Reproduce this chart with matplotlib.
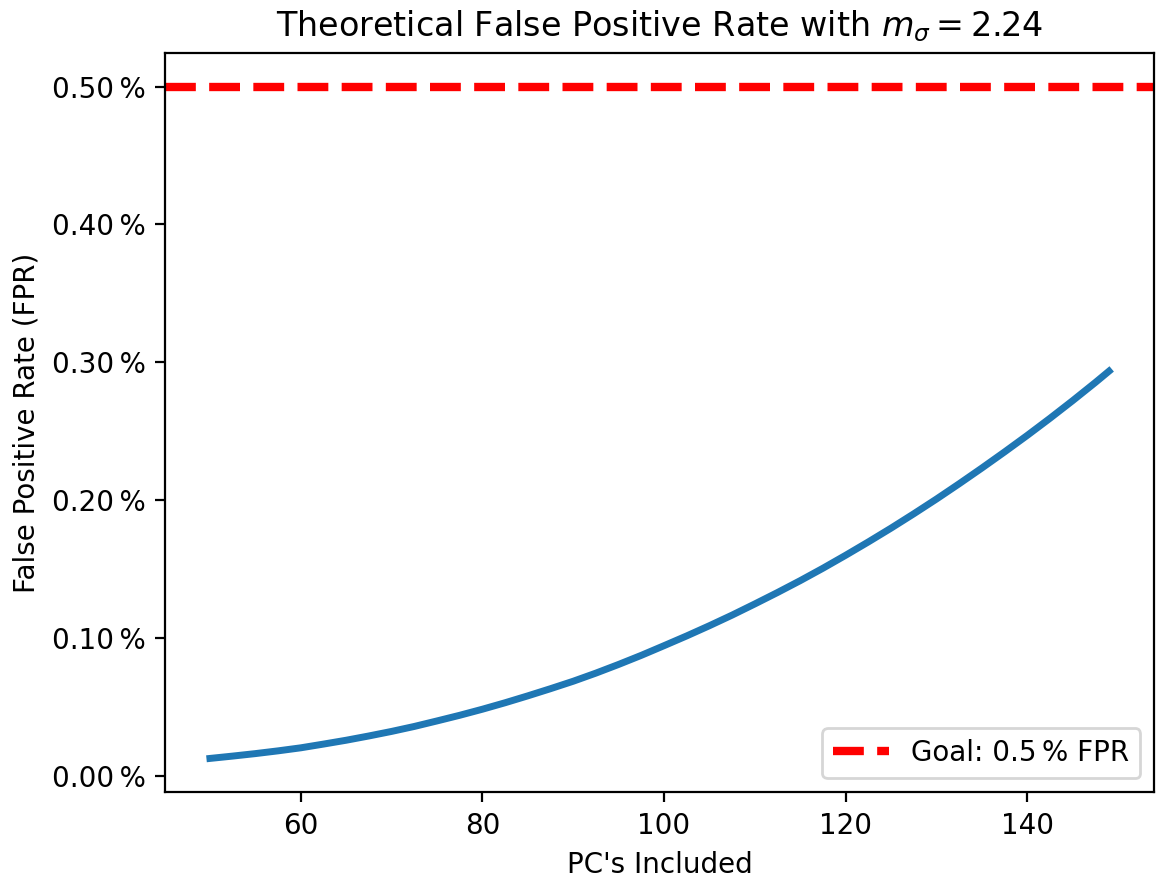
import numpy as np
import matplotlib
matplotlib.use("Agg")
import matplotlib.pyplot as plt
from matplotlib.ticker import FuncFormatter

# values (FPR in percent)
pcs = np.array([50, 52.5, 55, 57.5, 60, 62.5, 65, 67.5, 70, 72.5, 75, 77.5,
                80, 82.5, 85, 87.5, 90, 92.5, 95, 97.5, 100, 102.5, 105, 107.5,
                110, 112.5, 115, 117.5, 120, 122.5, 125, 127.5, 130, 132.5,
                135, 137.5, 140, 142.5, 145, 147.5, 149])
fpr = np.array([0.0126, 0.0143, 0.0161, 0.0181, 0.0203, 0.0230, 0.0258,
                0.0289, 0.0322, 0.0358, 0.0398, 0.0439, 0.0483, 0.0530,
                0.0580, 0.0632, 0.0686, 0.0745, 0.0808, 0.0874, 0.0944,
                0.1015, 0.1089, 0.1166, 0.1247, 0.1330, 0.1416, 0.1506,
                0.1600, 0.1697, 0.1797, 0.1901, 0.2008, 0.2119, 0.2233,
                0.2350, 0.2470, 0.2594, 0.2722, 0.2854, 0.2936])
goal = 0.5
m_sigma = 2.24

fig, ax = plt.subplots(figsize=(5.85, 4.42), dpi=200)
fig.subplots_adjust(left=0.141, right=0.9863, top=0.940, bottom=0.104)

ax.plot(pcs, fpr, color="#1f77b4", lw=2.5)
ax.axhline(goal, color="red", ls="--", lw=3, label="Goal: 0.5\u2009% FPR")

ax.yaxis.set_major_formatter(FuncFormatter(lambda v, p: f"{v:.2f}\u2009%"))
ax.set_yticks([0.0, 0.1, 0.2, 0.3, 0.4, 0.5])
ax.set_xlim(45.05, 153.95)
ax.set_ylim(-0.0118, 0.5244)

ax.set_title(rf"Theoretical False Positive Rate with $m_\sigma = {m_sigma}$")
ax.set_xlabel("PC's Included")
ax.set_ylabel("False Positive Rate (FPR)")
ax.legend(loc="lower right")

fig.savefig("out.png", dpi=200)
